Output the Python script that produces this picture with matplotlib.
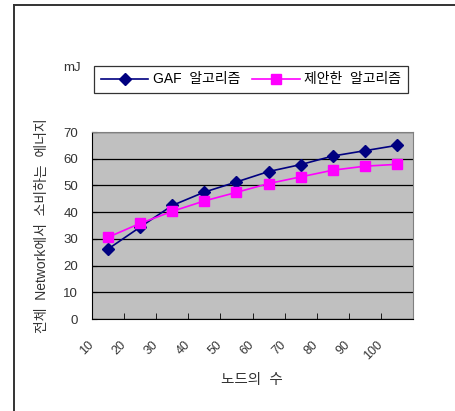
import matplotlib
matplotlib.use('Agg')
import matplotlib.pyplot as plt
import matplotlib.transforms as mtrans
import numpy as np

plt.rcParams['font.family'] = ['Liberation Sans', 'Noto Sans CJK KR', 'DejaVu Sans']

# data
nodes = ['10', '20', '30', '40', '50', '60', '70', '80', '90', '100']
gaf = [26.2, 34.4, 42.5, 47.5, 51.3, 55.2, 57.8, 61.0, 63.0, 65.0]
proposed = [30.6, 35.8, 40.3, 44.2, 47.4, 50.7, 53.2, 55.7, 57.2, 57.9]
yticks = [0, 10, 20, 30, 40, 50, 60, 70]

fig = plt.figure(figsize=(4.55, 4.11), dpi=100)
ax = fig.add_axes([92/455, 1-319/411, (413-92)/455, (319-132)/411])
ax.set_facecolor('#C0C0C0')

x = np.arange(len(nodes))
l1, = ax.plot(x, gaf, color='#000080', lw=1.2, marker='D', ms=6.5,
              label='GAF  알고리즘', zorder=3)
l2, = ax.plot(x, proposed, color='#FF00FF', lw=1.2, marker='s', ms=7.5,
              label='제안한  알고리즘', zorder=3)

ax.set_xlim(-0.5, len(nodes) - 0.5)
ax.set_ylim(0, 70)
ax.set_yticks(yticks)
ax.yaxis.grid(True, color='black', lw=0.9)
ax.set_axisbelow(True)

ax.set_xticks(x)
ax.set_xticklabels(nodes, rotation=45, ha='right', va='top', fontsize=9,
                   color='#333333')
ax.set_xticks(np.arange(0.5, len(nodes) - 1, 1.0), minor=True)
ax.tick_params(axis='x', which='major', length=0, pad=14)
ax.tick_params(axis='x', which='minor', direction='in', length=4.5, color='black')
ax.tick_params(axis='y', direction='in', length=3.5, labelsize=9.5,
               labelcolor='#333333', pad=10)
shift = mtrans.ScaledTranslation(-0.12, 0, fig.dpi_scale_trans)
for lab in ax.get_xticklabels():
    lab.set_transform(lab.get_transform() + shift)

for s in ['left', 'bottom']:
    ax.spines[s].set_color('black')
for s in ['top', 'right']:
    ax.spines[s].set_color('#808080')

ax.set_ylabel('전체  Network에서  소비하는  에너지', fontsize=10, color='#333333',
              labelpad=10)
fig.text(252/455, 1-380/411, '노드의  수', ha='center', va='center',
         fontsize=10.5, color='#333333')
fig.text(72/455, 1-68/411, 'mJ', ha='center', va='center', fontsize=9.5,
         color='#333333')

leg = fig.legend(handles=[l1, l2], loc='center', ncol=2,
                 bbox_to_anchor=(251/455, 1-79.5/411), fontsize=10,
                 frameon=True, fancybox=False, edgecolor='black',
                 handlelength=3.4, columnspacing=0.9, handletextpad=0.3,
                 borderpad=0.5)
leg.get_frame().set_linewidth(0.9)

# outer border lines
fig.add_artist(plt.Line2D([14/455, 1], [1-5/411, 1-5/411], color='#333333',
                          lw=1.4, transform=fig.transFigure))
fig.add_artist(plt.Line2D([14/455, 14/455], [0, 1-5/411], color='#333333',
                          lw=1.4, transform=fig.transFigure))

fig.savefig('out.png', dpi=100)
